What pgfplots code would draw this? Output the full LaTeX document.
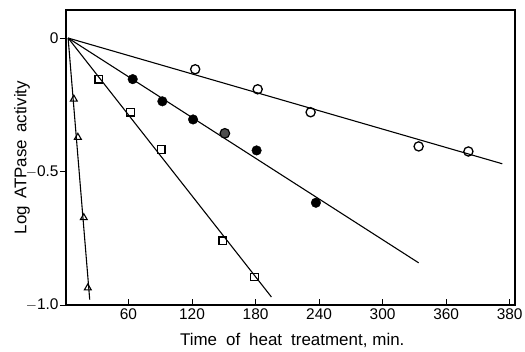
\documentclass[border=0pt]{standalone}
\usepackage{pgfplots}
\pgfplotsset{compat=1.18}
\usepackage{fontspec}
\setmainfont{Liberation Sans}
\begin{document}
\begin{tikzpicture}[x=1bp,y=1bp]
\begin{axis}[
  scale only axis,
  width=449bp, height=295bp,
  xmin=1, xmax=425, ymin=-1.0, ymax=0.105,
  axis line style={line width=1.2pt},
  xtick={60,120,180,240,300,360,420},
  xticklabels={60,120,180,240,300,360,380},
  ytick={-1.0,-0.5,0},
  yticklabels={$-$1.0,$-$0.5,0},
  xtick align=inside, ytick align=outside,
  tick style={black, line width=1pt},
  major tick length=6bp,
  xtick pos=bottom, ytick pos=left,
  /pgf/number format/assume math mode=true,
  tick label style={font=\fontsize{15.5}{17}\selectfont},
  xticklabel style={yshift=-0.5bp},
  yticklabel style={xshift=2bp},
  xlabel={Time\hspace{9bp}of\hspace{9bp}heat\hspace{9bp}treatment,\hspace{5bp}min.},
  ylabel={Log\hspace{7bp}ATPase\hspace{7bp}activity},
  label style={font=\fontsize{17}{19}\selectfont},
  xlabel style={at={(axis description cs:0.504,-0.119)}, anchor=center},
  ylabel style={at={(axis description cs:-0.098,0.5)}, anchor=center},
  clip=false,
]
% fitted lines
\addplot[black, line width=1.1pt] coordinates {(3,0) (413,-0.471)};
\addplot[black, line width=1.1pt] coordinates {(3,0) (334,-0.842)};
\addplot[black, line width=1.1pt] coordinates {(3,0) (195,-0.970)};
\addplot[black, line width=1.1pt] coordinates {(3,0) (23.4,-0.98)};
% open circles
\addplot[only marks, mark=o, mark size=4.6bp, mark options={fill=white, line width=1.3pt}]
  coordinates {(123,-0.117) (182,-0.192) (232,-0.278) (334,-0.406) (381,-0.425)};
% filled circles
\addplot[only marks, mark=*, mark size=4.8bp, mark options={fill=black}]
  coordinates {(64,-0.154) (92,-0.237) (121,-0.305) (181,-0.421) (237,-0.617)};
\addplot[only marks, mark=*, mark size=4.8bp, mark options={fill=black!70, draw=black, line width=1.2pt}]
  coordinates {(151,-0.357)};
% squares
\addplot[only marks, mark=square, mark size=3.8bp, mark options={fill=white, line width=1.3pt}]
  coordinates {(32,-0.154) (62,-0.278) (91,-0.417) (149,-0.759) (179,-0.895)};
% triangles
\addplot[only marks, mark=triangle, mark size=4bp, mark options={fill=white, line width=1.1pt}]
  coordinates {(8.4,-0.229) (12.2,-0.372) (17.8,-0.673) (21.6,-0.936)};
\end{axis}
\pgfresetboundingbox
\path (current axis.south west) ++(-66bp,-47bp) coordinate (BL);
\path (current axis.south west) ++(459bp,305bp) coordinate (TR);
\path (BL) rectangle (TR);
\end{tikzpicture}
\end{document}
